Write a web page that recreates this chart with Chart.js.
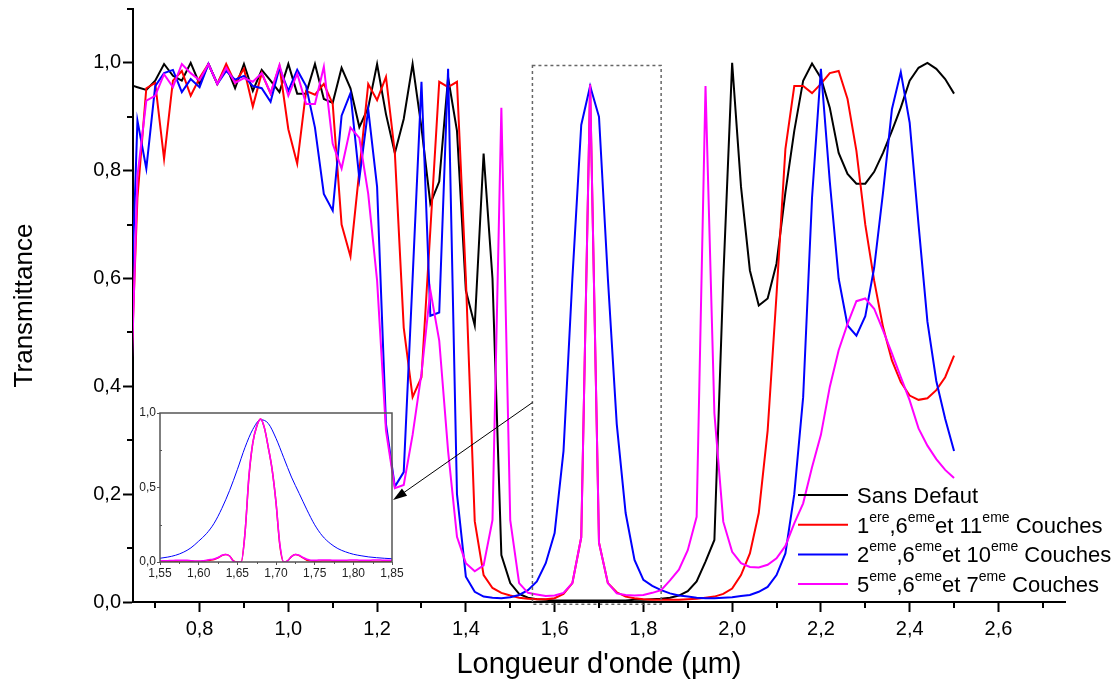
<!DOCTYPE html>
<html>
<head>
<meta charset="utf-8">
<script src="https://cdn.jsdelivr.net/npm/chart.js@4.4.1/dist/chart.umd.min.js"></script>
<style>
  html, body { margin: 0; padding: 0; background: #fff; }
  #wrap { position: relative; width: 1118px; height: 689px; overflow: hidden; }
  #main { position: absolute; left: 0; top: 0; }
  #inset { position: absolute; left: 130px; top: 400px; }
</style>
</head>
<body>
<div id="wrap">
  <canvas id="main" width="1118" height="689"></canvas>
  <canvas id="inset" width="276" height="182"></canvas>
</div>
<script>
// wavelength grid (µm) of the main curves
const wavelengths = [0.64, 0.66, 0.68, 0.70, 0.72, 0.74, 0.76, 0.78, 0.80, 0.82,
  0.84, 0.86, 0.88, 0.90, 0.92, 0.94, 0.96, 0.98, 1.00, 1.02,
  1.04, 1.06, 1.08, 1.10, 1.12, 1.14, 1.16, 1.18, 1.20, 1.22,
  1.24, 1.26, 1.28, 1.30, 1.32, 1.34, 1.36, 1.38, 1.40, 1.42,
  1.44, 1.46, 1.48, 1.50, 1.52, 1.54, 1.56, 1.58, 1.60, 1.62,
  1.64, 1.66, 1.68, 1.70, 1.72, 1.74, 1.76, 1.78, 1.80, 1.82,
  1.84, 1.86, 1.88, 1.90, 1.92, 1.94, 1.96, 1.98, 2.00, 2.02,
  2.04, 2.06, 2.08, 2.10, 2.12, 2.14, 2.16, 2.18, 2.20, 2.22,
  2.24, 2.26, 2.28, 2.30, 2.32, 2.34, 2.36, 2.38, 2.40, 2.42,
  2.44, 2.46, 2.48, 2.50];

const sansDefaut = [0.96, 0.955, 0.95, 0.967, 0.998, 0.976, 0.967, 1.0, 0.961, 0.998,
  0.961, 0.994, 0.953, 0.998, 0.948, 0.987, 0.967, 0.946, 0.998, 0.943,
  0.943, 0.998, 0.933, 0.926, 0.991, 0.953, 0.881, 0.917, 0.998, 0.905,
  0.833, 0.896, 0.998, 0.88, 0.739, 0.78, 0.973, 0.874, 0.578, 0.513,
  0.832, 0.6, 0.087, 0.035, 0.015, 0.008, 0.005, 0.004, 0.003, 0.003,
  0.003, 0.003, 0.003, 0.003, 0.003, 0.003, 0.003, 0.004, 0.004, 0.005,
  0.006, 0.008, 0.012, 0.02, 0.038, 0.075, 0.115, 0.6, 1.0, 0.77,
  0.615, 0.55, 0.563, 0.628, 0.76, 0.874, 0.967, 0.999, 0.972, 0.917,
  0.833, 0.794, 0.776, 0.776, 0.798, 0.833, 0.874, 0.917, 0.967, 0.991,
  1.0, 0.989, 0.97, 0.943];

const couches1611 = [0.3, 0.75, 0.953, 0.963, 0.822, 0.967, 0.985, 0.939, 0.972, 0.998,
  0.961, 0.998, 0.963, 0.989, 0.919, 0.981, 0.943, 0.994, 0.877, 0.813,
  0.948, 0.941, 0.961, 0.924, 0.70, 0.641, 0.80, 0.961, 0.931, 0.974,
  0.833, 0.509, 0.38, 0.417, 0.69, 0.965, 0.955, 0.965, 0.6, 0.15,
  0.05, 0.026, 0.017, 0.012, 0.008, 0.006, 0.005, 0.005, 0.007, 0.015,
  0.035, 0.12, 0.96, 0.11, 0.035, 0.018, 0.01, 0.007, 0.005, 0.004,
  0.004, 0.004, 0.004, 0.005, 0.006, 0.008, 0.01, 0.015, 0.025, 0.05,
  0.09, 0.165, 0.318, 0.57, 0.84, 0.957, 0.957, 0.944, 0.961, 0.981,
  0.985, 0.933, 0.837, 0.70, 0.596, 0.51, 0.448, 0.408, 0.383, 0.375,
  0.378, 0.393, 0.417, 0.457];

const couches2610 = [0.4, 0.893, 0.804, 0.957, 0.981, 0.987, 0.946, 0.970, 0.955, 0.998,
  0.961, 0.985, 0.969, 0.976, 0.957, 0.953, 0.928, 0.991, 0.948, 0.987,
  0.957, 0.88, 0.757, 0.726, 0.902, 0.944, 0.785, 0.914, 0.77, 0.33,
  0.214, 0.241, 0.6, 0.965, 0.531, 0.537, 0.989, 0.2, 0.047, 0.019,
  0.01, 0.008, 0.007, 0.009, 0.013, 0.022, 0.038, 0.072, 0.128, 0.28,
  0.6, 0.885, 0.957, 0.9, 0.6, 0.33, 0.165, 0.078, 0.041, 0.03,
  0.022, 0.016, 0.012, 0.01, 0.008, 0.007, 0.007, 0.008, 0.009, 0.011,
  0.013, 0.019, 0.028, 0.05, 0.09, 0.2, 0.38, 0.75, 0.989, 0.78,
  0.6, 0.513, 0.494, 0.53, 0.62, 0.76, 0.914, 0.983, 0.889, 0.70,
  0.52, 0.41, 0.34, 0.28];

const couches567 = [0.24, 0.79, 0.93, 0.939, 0.979, 0.955, 0.998, 0.981, 0.968, 0.998,
  0.961, 0.991, 0.963, 0.972, 0.965, 0.981, 0.944, 0.996, 0.939, 0.98,
  0.924, 0.924, 0.993, 0.85, 0.804, 0.88, 0.861, 0.757, 0.596, 0.318,
  0.211, 0.217, 0.31, 0.424, 0.578, 0.485, 0.28, 0.121, 0.072, 0.057,
  0.068, 0.152, 0.917, 0.152, 0.035, 0.017, 0.014, 0.011, 0.012, 0.017,
  0.035, 0.12, 0.96, 0.11, 0.035, 0.016, 0.013, 0.012, 0.013, 0.017,
  0.022, 0.04, 0.06, 0.096, 0.158, 0.957, 0.35, 0.149, 0.093, 0.072,
  0.065, 0.064, 0.069, 0.081, 0.104, 0.146, 0.183, 0.25, 0.31, 0.399,
  0.467, 0.516, 0.558, 0.563, 0.544, 0.504, 0.461, 0.417, 0.374, 0.322,
  0.29, 0.265, 0.245, 0.23];

// inset (zoom on 1.55 - 1.85 µm)
const insetBlueX = [1.55, 1.56, 1.57, 1.58, 1.59, 1.60, 1.61, 1.62, 1.63, 1.64,
  1.65, 1.66, 1.67, 1.68, 1.69, 1.70, 1.71, 1.72, 1.73, 1.74,
  1.75, 1.76, 1.77, 1.78, 1.79, 1.80, 1.81, 1.82, 1.83, 1.84, 1.85];
const insetBlue = [0.025, 0.033, 0.045, 0.065, 0.095, 0.14, 0.19, 0.26, 0.36, 0.48,
  0.62, 0.77, 0.89, 0.955, 0.93, 0.83, 0.70, 0.57, 0.46, 0.35,
  0.25, 0.175, 0.125, 0.09, 0.068, 0.052, 0.042, 0.034, 0.029, 0.025, 0.022];

const insetFineX = [1.550, 1.555, 1.560, 1.565, 1.570, 1.575, 1.580, 1.585, 1.590, 1.595,
  1.600, 1.605, 1.610, 1.615, 1.620, 1.625, 1.630, 1.635, 1.640, 1.645,
  1.650, 1.655, 1.660, 1.665, 1.670, 1.675, 1.680, 1.685, 1.690, 1.695,
  1.700, 1.705, 1.710, 1.715, 1.720, 1.725, 1.730, 1.735, 1.740, 1.745,
  1.750, 1.755, 1.760, 1.765, 1.770, 1.775, 1.780, 1.785, 1.790, 1.795,
  1.800, 1.805, 1.810, 1.815, 1.820, 1.825, 1.830, 1.835, 1.840, 1.845, 1.850];
const insetRed = [0.004, 0.004, 0.004, 0.005, 0.005, 0.006, 0.006, 0.006, 0.005, 0.004,
  0.003, 0.004, 0.008, 0.012, 0.017, 0.028, 0.043, 0.05, 0.04, 0.008,
  0.0, 0.0, 0.2, 0.57, 0.8, 0.91, 0.96, 0.9, 0.77, 0.62,
  0.4, 0.11, 0.0, 0.008, 0.036, 0.05, 0.043, 0.027, 0.012, 0.006,
  0.005, 0.005, 0.006, 0.006, 0.006, 0.005, 0.005, 0.004, 0.004, 0.004,
  0.004, 0.004, 0.004, 0.004, 0.004, 0.004, 0.004, 0.004, 0.004, 0.004, 0.004];
const insetMagenta = [0.008, 0.008, 0.009, 0.010, 0.011, 0.012, 0.012, 0.011, 0.009, 0.007,
  0.006, 0.008, 0.012, 0.016, 0.02, 0.03, 0.045, 0.05, 0.04, 0.005,
  0.0, 0.0, 0.2, 0.58, 0.8, 0.91, 0.96, 0.9, 0.77, 0.62,
  0.4, 0.12, 0.0, 0.008, 0.036, 0.05, 0.045, 0.03, 0.018, 0.012,
  0.011, 0.013, 0.014, 0.014, 0.013, 0.012, 0.011, 0.011, 0.012, 0.013,
  0.013, 0.013, 0.012, 0.012, 0.012, 0.013, 0.013, 0.013, 0.012, 0.012, 0.012];

const xMinorTicks = [0.7, 0.9, 1.1, 1.3, 1.5, 1.7, 1.9, 2.1, 2.3, 2.5, 2.7];
const yMinorTicks = [0.1, 0.3, 0.5, 0.7, 0.9, 1.1];
const insetXMinor = [1.575, 1.625, 1.675, 1.725, 1.775, 1.825];
const insetYMinor = [0.25, 0.75];

// dashed window on the main plot and the arrow to the inset
const zoomWindow = { x0: 1.55, x1: 1.84, y0: -0.004, y1: 0.995 };
const arrowFrom = [1.55, 0.37];
const arrowTo = [1.236, 0.189];

const legendRows = [
  { color: '#000000', parts: [['Sans Defaut', 0]] },
  { color: '#ff0000', parts: [['1', 0], ['ere', 1], [',6', 0], ['eme', 1], ['et 11', 0], ['eme', 1], [' Couches', 0]] },
  { color: '#0000ff', parts: [['2', 0], ['eme', 1], [',6', 0], ['eme', 1], ['et 10', 0], ['eme', 1], [' Couches', 0]] },
  { color: '#ff00ff', parts: [['5', 0], ['eme', 1], [',6', 0], ['eme', 1], ['et 7', 0], ['eme', 1], [' Couches', 0]] }
];

const FONT = "'Liberation Sans', Arial, Helvetica, sans-serif";
Chart.defaults.font.family = FONT;
Chart.defaults.color = '#000';

function toPoints(xs, ys) {
    return xs.map((x, i) => ({ x: x, y: ys[i] }));
}
function comma(v, d) {
    return v.toFixed(d).replace('.', ',');
}

const mainDecor = {
    id: 'mainDecor',
    afterDatasetsDraw(chart) {
        const ctx = chart.ctx;
        const x = chart.scales.x, y = chart.scales.y;

        ctx.save();
        ctx.strokeStyle = '#666';
        ctx.lineWidth = 1.5;
        ctx.setLineDash([3, 3]);
        const px0 = x.getPixelForValue(zoomWindow.x0), px1 = x.getPixelForValue(zoomWindow.x1);
        const py0 = y.getPixelForValue(zoomWindow.y0), py1 = y.getPixelForValue(zoomWindow.y1);
        ctx.strokeRect(px0, py1, px1 - px0, py0 - py1);
        ctx.restore();

        // arrow
        const ax = x.getPixelForValue(arrowFrom[0]), ay = y.getPixelForValue(arrowFrom[1]);
        const bx = x.getPixelForValue(arrowTo[0]), by = y.getPixelForValue(arrowTo[1]);
        const ang = Math.atan2(by - ay, bx - ax);
        ctx.save();
        ctx.strokeStyle = '#000';
        ctx.fillStyle = '#000';
        ctx.lineWidth = 1;
        ctx.beginPath();
        ctx.moveTo(ax, ay);
        ctx.lineTo(bx - 10 * Math.cos(ang), by - 10 * Math.sin(ang));
        ctx.stroke();
        ctx.beginPath();
        ctx.moveTo(bx, by);
        ctx.lineTo(bx - 14 * Math.cos(ang) + 4.5 * Math.sin(ang), by - 14 * Math.sin(ang) - 4.5 * Math.cos(ang));
        ctx.lineTo(bx - 14 * Math.cos(ang) - 4.5 * Math.sin(ang), by - 14 * Math.sin(ang) + 4.5 * Math.cos(ang));
        ctx.closePath();
        ctx.fill();
        ctx.restore();
    },
    afterDraw(chart) {
        const ctx = chart.ctx;
        const a = chart.chartArea;
        const x = chart.scales.x, y = chart.scales.y;

        // minor ticks
        ctx.save();
        ctx.strokeStyle = '#000';
        ctx.lineWidth = 2;
        ctx.beginPath();
        xMinorTicks.forEach(v => {
            const px = Math.round(x.getPixelForValue(v));
            ctx.moveTo(px, a.bottom);
            ctx.lineTo(px, a.bottom + 6);
        });
        yMinorTicks.forEach(v => {
            const py = Math.round(y.getPixelForValue(v));
            ctx.moveTo(a.left, py);
            ctx.lineTo(a.left - 6, py);
        });
        ctx.stroke();
        ctx.restore();

        // legend
        const lx = a.right - 267;
        let ly = a.bottom - 107;
        ctx.save();
        legendRows.forEach(row => {
            ctx.strokeStyle = row.color;
            ctx.lineWidth = 2;
            ctx.beginPath();
            ctx.moveTo(lx, ly);
            ctx.lineTo(lx + 50, ly);
            ctx.stroke();
            let tx = lx + 59;
            const base = ly + 8;
            ctx.fillStyle = '#000';
            ctx.textBaseline = 'alphabetic';
            ctx.textAlign = 'left';
            row.parts.forEach(p => {
                ctx.font = (p[1] ? '14px ' : '22px ') + FONT;
                ctx.fillText(p[0], tx, p[1] ? base - 11 : base);
                tx += ctx.measureText(p[0]).width;
            });
            ly += 29.7;
        });
        ctx.restore();
    }
};

new Chart(document.getElementById('main'), {
    type: 'line',
    data: {
        datasets: [
            { label: 'Sans Defaut', data: toPoints(wavelengths, sansDefaut), borderColor: '#000000', order: 3 },
            { label: '1ere,6eme et 11eme Couches', data: toPoints(wavelengths, couches1611), borderColor: '#ff0000', order: 2 },
            { label: '2eme,6eme et 10eme Couches', data: toPoints(wavelengths, couches2610), borderColor: '#0000ff', order: 1 },
            { label: '5eme,6eme et 7eme Couches', data: toPoints(wavelengths, couches567), borderColor: '#ff00ff', order: 0 }
        ]
    },
    options: {
        responsive: false,
        animation: false,
        devicePixelRatio: 1,
        datasets: { line: { borderWidth: 2, pointRadius: 0, tension: 0, fill: false } },
        layout: { padding: { top: 9, right: 53, left: 0, bottom: 0 } },
        plugins: { legend: { display: false }, tooltip: { enabled: false } },
        scales: {
            x: {
                type: 'linear', min: 0.65, max: 2.75,
                afterFit: s => { s.height = 87; s.paddingLeft = 0; s.paddingRight = 0; },
                border: { color: '#000', width: 2 },
                grid: { display: true, drawOnChartArea: false, drawTicks: true, tickLength: 10, tickColor: '#000', tickWidth: 2 },
                ticks: { stepSize: 0.2, includeBounds: false, padding: 5, maxRotation: 0, autoSkip: false,
                    font: { size: 20 }, color: '#000', callback: v => comma(v, 1) },
                title: { display: true, text: "Longueur d'onde (µm)", color: '#000',
                    font: { size: 29 }, padding: { top: 0, bottom: 7 } }
            },
            y: {
                type: 'linear', min: 0, max: 1.1,
                afterFit: s => { s.width = 133; s.paddingTop = 0; s.paddingBottom = 0; },
                border: { color: '#000', width: 2 },
                grid: { display: true, drawOnChartArea: false, drawTicks: true, tickLength: 10, tickColor: '#000', tickWidth: 2 },
                ticks: { stepSize: 0.2, includeBounds: false, padding: 2,
                    font: { size: 20 }, color: '#000', callback: v => comma(v, 1) },
                title: { display: true, text: 'Transmittance', color: '#000',
                    font: { size: 26 }, padding: { top: 9, bottom: 0 } }
            }
        }
    },
    plugins: [mainDecor]
});

const insetDecor = {
    id: 'insetDecor',
    afterDraw(chart) {
        const ctx = chart.ctx;
        const a = chart.chartArea;
        const x = chart.scales.x, y = chart.scales.y;
        ctx.save();
        ctx.strokeStyle = '#555';
        ctx.lineWidth = 1.5;
        ctx.strokeRect(a.left, a.top, a.right - a.left, a.bottom - a.top);
        ctx.lineWidth = 1;
        ctx.beginPath();
        insetXMinor.forEach(v => {
            const px = Math.round(x.getPixelForValue(v)) + 0.5;
            ctx.moveTo(px, a.bottom);
            ctx.lineTo(px, a.bottom + 2);
        });
        insetYMinor.forEach(v => {
            const py = Math.round(y.getPixelForValue(v)) + 0.5;
            ctx.moveTo(a.left, py);
            ctx.lineTo(a.left + 2, py);
        });
        ctx.stroke();
        ctx.restore();
    }
};

new Chart(document.getElementById('inset'), {
    type: 'line',
    data: {
        datasets: [
            { label: 'b', data: toPoints(insetBlueX, insetBlue), borderColor: '#0000ff', borderWidth: 1, order: 2 },
            { label: 'r', data: toPoints(insetFineX, insetRed), borderColor: '#ff0000', borderWidth: 1.5, order: 1 },
            { label: 'm', data: toPoints(insetFineX, insetMagenta), borderColor: '#ff00ff', borderWidth: 1.5, order: 0 }
        ]
    },
    options: {
        responsive: false,
        animation: false,
        devicePixelRatio: 1,
        datasets: { line: { pointRadius: 0, cubicInterpolationMode: 'monotone', fill: false } },
        layout: { padding: { top: 13, right: 14, left: 0, bottom: 0 } },
        plugins: { legend: { display: false }, tooltip: { enabled: false } },
        scales: {
            x: {
                type: 'linear', min: 1.55, max: 1.85,
                afterFit: s => { s.height = 20; s.paddingLeft = 0; s.paddingRight = 0; },
                border: { display: false },
                grid: { display: true, drawOnChartArea: false, drawTicks: true, tickLength: 3, tickColor: '#555', tickWidth: 1 },
                ticks: { stepSize: 0.05, padding: 1, maxRotation: 0, autoSkip: false,
                    font: { size: 12 }, color: '#222', callback: v => comma(v, 2) }
            },
            y: {
                type: 'linear', min: 0, max: 1,
                afterFit: s => { s.width = 30; s.paddingTop = 0; s.paddingBottom = 0; },
                border: { display: false },
                grid: { display: true, drawOnChartArea: false, drawTicks: true, tickLength: 3, tickColor: '#555', tickWidth: 1 },
                ticks: { stepSize: 0.5, padding: 1,
                    font: { size: 12 }, color: '#222', callback: v => comma(v, 1) }
            }
        }
    },
    plugins: [insetDecor]
});
</script>
</body>
</html>
